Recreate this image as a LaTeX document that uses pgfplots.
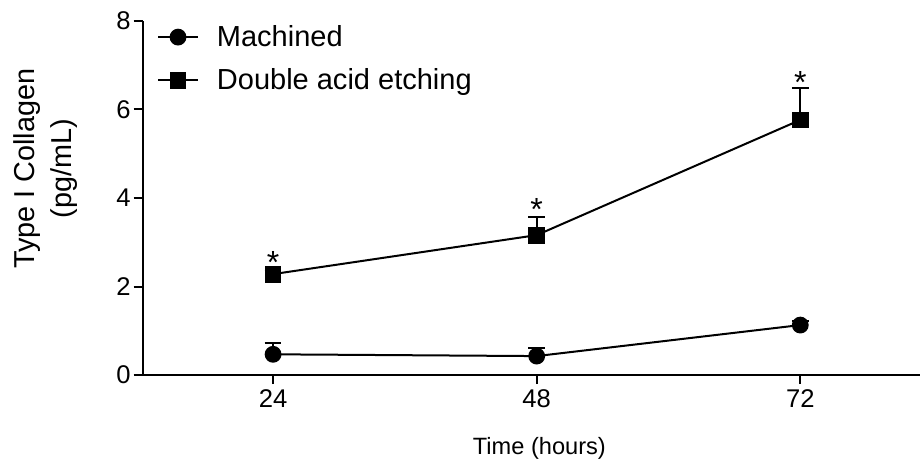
\documentclass[border=0pt]{standalone}
\usepackage{fontspec}
\setmainfont{Liberation Sans}
\usepackage{pgfplots}
\pgfplotsset{compat=1.18}
\usetikzlibrary{calc}

\begin{document}
\begin{tikzpicture}
\begin{axis}[
    scale only axis,
    width=388.6pt, height=177.2pt,
    xmin=12.13, xmax=82.9,
    ymin=0, ymax=8,
    axis lines*=left,
    axis line style={line width=1pt},
    tick align=outside,
    tick style={line width=1pt, black},
    major tick length=4.5pt,
    xtick={24,48,72},
    ytick={0,2,4,6,8},
    minor tick num=0,
    /pgf/number format/assume math mode=true,
    tick label style={font=\fontsize{12.8}{14}\selectfont},
    yticklabel style={xshift=2pt},
    xticklabel style={yshift=1pt},
    xlabel={Time (hours)},
    xlabel style={font=\fontsize{11.8}{14}\selectfont, yshift=-8pt, xshift=4pt},
    ylabel={Type I Collagen\\(pg/mL)},
    ylabel style={font=\fontsize{14.4}{18.5}\selectfont, align=center,
        at={(ticklabel cs:0.582)}, yshift=12.5pt},
    legend style={draw=none, fill=none, at={(axis description cs:0,1)},
        anchor=north west, xshift=4pt, yshift=2pt,
        font=\fontsize{14.5}{17}\selectfont, row sep=5.5pt,
        /tikz/every odd column/.append style={column sep=7pt}},
    legend cell align=left,
    legend image code/.code={
        \draw[#1, mark repeat=2, mark phase=2]
            plot coordinates {(0cm,0cm) (0.35cm,0cm) (0.7cm,0cm)};},
    error bars/y dir=plus,
    error bars/y explicit,
    error bars/error mark options={rotate=90, mark size=4.2pt, line width=1pt},
    error bars/error bar style={line width=1pt},
]
\addplot[black, line width=1pt, mark=*, mark size=3.7pt]
    coordinates {
    (24,0.47) +- (0,0.245)
    (48,0.43) +- (0,0.19)
    (72,1.13) +- (0,0.10)
};
\addlegendentry{Machined}
\addplot[black, line width=1pt, mark=square*, mark size=3.7pt]
    coordinates {
    (24,2.28) +- (0,0.08)
    (48,3.16) +- (0,0.40)
    (72,5.76) +- (0,0.71)
};
\addlegendentry{Double acid etching}
% significance stars
\addplot[draw=none, mark=none, forget plot,
    error bars/y dir=none,
    nodes near coords={*},
    every node near coord/.append style={anchor=center,
        font=\fontsize{16}{16}\selectfont}]
    coordinates {
    (24,2.54)
    (48,3.75)
    (72,6.60)
};
\end{axis}
\pgfresetboundingbox
\path ($(current axis.south west)+(-71.35pt,-44.5pt)$)
    rectangle ($(current axis.north east)+(0pt,10.35pt)$);
\end{tikzpicture}
\end{document}
